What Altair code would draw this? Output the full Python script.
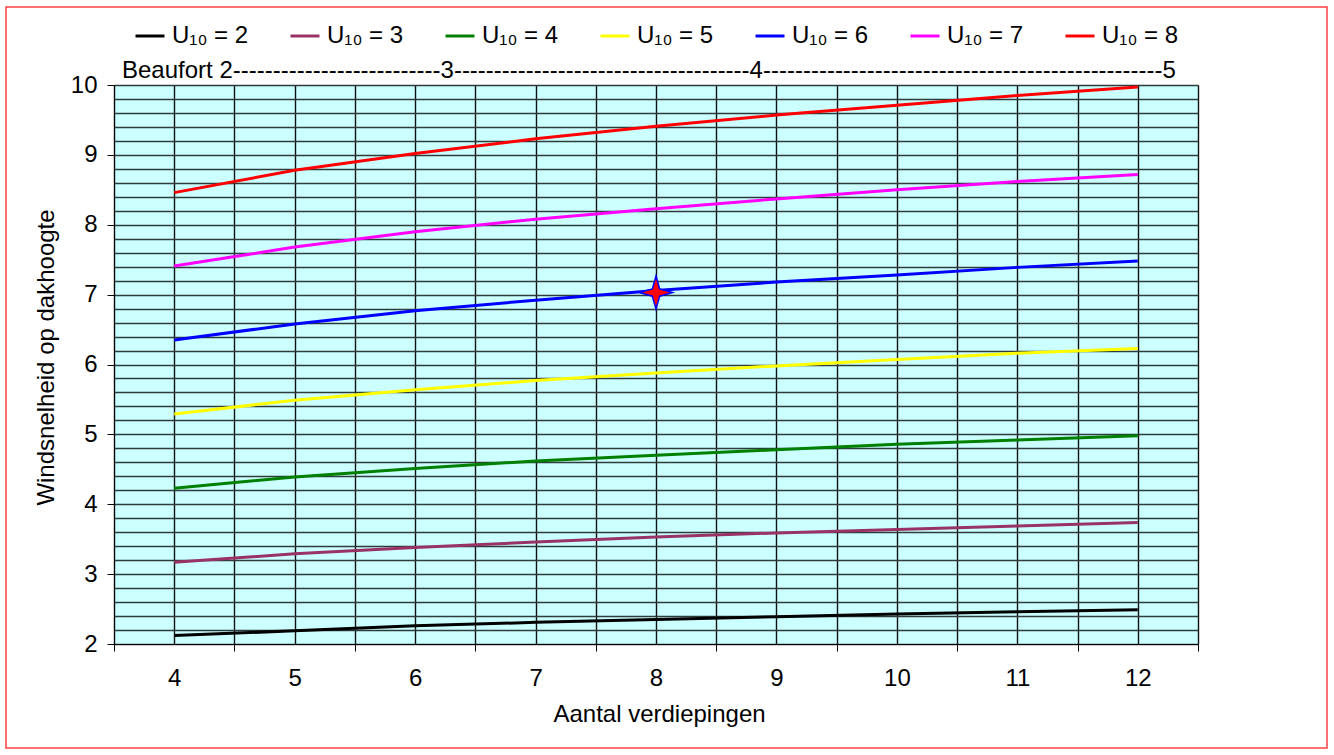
import altair as alt
import pandas as pd

floors = [4, 5, 6, 7, 8, 9, 10, 11, 12]
u2 = [2.12, 2.19, 2.26, 2.31, 2.35, 2.39, 2.43, 2.46, 2.49]
u3 = [3.17, 3.29, 3.38, 3.46, 3.53, 3.59, 3.64, 3.69, 3.74]
u4 = [4.23, 4.39, 4.51, 4.62, 4.70, 4.78, 4.86, 4.92, 4.98]
u5 = [5.29, 5.49, 5.64, 5.77, 5.88, 5.98, 6.07, 6.16, 6.23]
u6 = [6.35, 6.58, 6.77, 6.92, 7.06, 7.18, 7.28, 7.39, 7.48]
u7 = [7.41, 7.68, 7.90, 8.08, 8.23, 8.37, 8.50, 8.62, 8.72]
u8 = [8.46, 8.78, 9.02, 9.23, 9.41, 9.57, 9.71, 9.85, 9.97]
series_names = ["U₁₀ = 2", "U₁₀ = 3", "U₁₀ = 4", "U₁₀ = 5", "U₁₀ = 6", "U₁₀ = 7", "U₁₀ = 8"]
series_colors = ["#000000", "#993366", "#008000", "#FFFF00", "#0000FF", "#FF00FF", "#FF0000"]
marker_x = [8]
marker_y = [7.03]
beaufort_parts = ["Beaufort 2", "3", "4", "5"]
beaufort_dashes = [26, 37, 50]

rows = []
for name, vals in zip(series_names, [u2, u3, u4, u5, u6, u7, u8]):
    for f, v in zip(floors, vals):
        rows.append({"floors": f, "speed": v, "series": name})
df = pd.DataFrame(rows)

beaufort_text = beaufort_parts[0]
for n, part in zip(beaufort_dashes, beaufort_parts[1:]):
    beaufort_text += "-" * n + part

FONT = "Liberation Sans"
FS = 24

x_vals = [v / 2 for v in range(7, 26)]
y_vals = [round(2 + 0.2 * i, 1) for i in range(41)]

x_scale = alt.Scale(domain=[3.5, 12.5], nice=False, zero=False)
y_scale = alt.Scale(domain=[2, 10], nice=False, zero=False)

x_axis = alt.Axis(
    values=x_vals,
    tickCount=100,
    title="Aantal verdiepingen",
    titleX=545,
    labelExpr="datum.value % 1 == 0 ? '' + datum.value : ''",
    labelOverlap=False,
    labelFlush=False,
    tickOpacity={"condition": {"test": "datum.value % 1 != 0", "value": 1}, "value": 0},
    tickSize=7,
    tickColor="#000000",
    labelPadding=15,
    titlePadding=12,
    grid=True,
    gridColor="#111111",
    gridWidth=1.4,
    domainColor="#000000",
)
y_axis = alt.Axis(
    values=y_vals,
    tickCount=100,
    title="Windsnelheid op dakhoogte",
    titleY=272,
    labelExpr="abs(datum.value - round(datum.value)) < 0.01 ? '' + round(datum.value) : ''",
    labelOverlap=False,
    labelFlush=False,
    tickOpacity={"condition": {"test": "abs(datum.value - round(datum.value)) < 0.01", "value": 1}, "value": 0},
    tickSize=7,
    tickColor="#000000",
    labelPadding=10,
    titlePadding=12,
    grid=True,
    gridColor="#2f3b3b",
    gridWidth=1.6,
    domainColor="#000000",
)

lines = alt.Chart(df).mark_line(strokeWidth=3).encode(
    x=alt.X("floors:Q", scale=x_scale, axis=x_axis),
    y=alt.Y("speed:Q", scale=y_scale, axis=y_axis),
    color=alt.Color(
        "series:N",
        scale=alt.Scale(domain=series_names, range=series_colors),
        legend=alt.Legend(title=None),
    ),
)

star_path = "M0,-1 L0.22,-0.22 L1,0 L0.22,0.22 L0,1 L-0.22,0.22 L-1,0 L-0.22,-0.22 Z"
marker = alt.Chart(pd.DataFrame({"floors": marker_x, "speed": marker_y})).mark_point(
    shape=star_path, size=1100, filled=True, fill="#FF0000", stroke="#0000FF",
    strokeWidth=1.5, opacity=1,
).encode(x=alt.X("floors:Q", scale=x_scale), y=alt.Y("speed:Q", scale=y_scale))

beaufort = alt.Chart(pd.DataFrame({"t": [beaufort_text]})).mark_text(
    align="left", baseline="middle", font=FONT, fontSize=FS, color="#000000"
).encode(text="t:N", x=alt.value(8), y=alt.value(-14))

border = alt.Chart(pd.DataFrame({"a": [0]})).mark_rect(
    fillOpacity=0, stroke="#FF4040", strokeWidth=1.5
).encode(x=alt.value(-108), x2=alt.value(1213), y=alt.value(-78), y2=alt.value(663))

chart = alt.layer(lines, marker, beaufort, border).properties(
    width=1084,
    height=559,
    padding={"left": 114, "top": 85, "right": 136, "bottom": 111},
    autosize=alt.AutoSizeParams(type="none"),
    background="#FFFFFF",
).configure_view(
    fill="#CCFFFF", stroke="#909090", strokeWidth=1
).configure_axis(
    labelFont=FONT, titleFont=FONT, labelFontSize=FS, titleFontSize=FS,
    labelColor="#000000", titleColor="#000000", titleFontWeight="normal",
).configure_legend(
    orient="none", legendX=20, legendY=-65, direction="horizontal",
    labelFont=FONT, labelFontSize=FS, labelColor="#000000",
    symbolType="stroke", symbolSize=841, symbolStrokeWidth=3,
    labelOffset=6, columnPadding=35, columns=7,
)

chart.save("out.html", embed_options={"renderer": "svg", "actions": False})
